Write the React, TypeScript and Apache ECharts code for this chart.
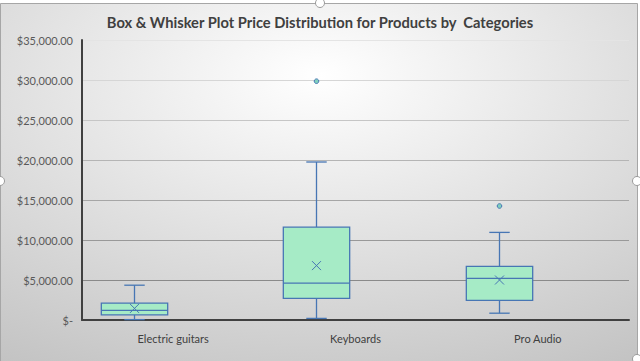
import React, { useEffect, useRef } from "react";
import * as echarts from "echarts";

const categories = ["Electric guitars", "Keyboards", "Pro Audio"];
const whiskerLow = [50, 200, 850];
const quartile1 = [650, 2700, 2450];
const medians = [1200, 4600, 5200];
const quartile3 = [2100, 11600, 6700];
const whiskerHigh = [4350, 19750, 10950];
const means = [1450, 6800, 5000];
const outlierCategory = [1, 2];
const outlierValue = [29850, 14250];

const OFFSET = 0.215;
const BOX = 0.364;
const CAP = 0.112;
const BLUE = "#4776b4";
const FILL = "#a6ebc6";
const FONT = "Lato";

export default function App() {
  const ref = useRef<HTMLDivElement>(null);
  useEffect(() => {
    document.body.style.margin = "0";
    const chart = echarts.init(ref.current!, null, { renderer: "svg" });
    const boxData = categories.map((_, i) => [
      i,
      whiskerLow[i],
      quartile1[i],
      medians[i],
      quartile3[i],
      whiskerHigh[i],
      means[i],
    ]);
    const outData = outlierCategory.map((c, i) => [c, outlierValue[i]]);
    const fmt = (v: number) =>
      v === 0
        ? "$-"
        : "$" + v.toLocaleString("en-US", { minimumFractionDigits: 2, maximumFractionDigits: 2 });

    chart.setOption({
      animation: false,
      graphic: [
        {
          type: "rect",
          z: -10,
          silent: true,
          shape: { x: 0.5, y: 3.5, width: 637, height: 360 },
          style: {
            fill: {
              type: "radial",
              x: 0.5,
              y: 0.2,
              r: 0.95,
              colorStops: [
                { offset: 0, color: "#ffffff" },
                { offset: 1, color: "#c2c2c2" },
              ],
            },
            stroke: "#a6a6a6",
            lineWidth: 1,
          },
        },
        ...[
          [0, 181],
          [637, 181],
          [637, 359],
          [320, 3],
        ].map(([x, y]) => ({
          type: "circle",
          z: 100,
          silent: true,
          shape: { cx: x, cy: y, r: 4.5 },
          style: { fill: "#ffffff", stroke: "#9a9a9a", lineWidth: 1 },
        })),
      ],
      title: {
        text: "Box & Whisker Plot Price Distribution for Products by  Categories",
        left: "center",
        top: 9,
        textStyle: { fontFamily: FONT, fontSize: 14.7, fontWeight: "bold", color: "#404040" },
      },
      grid: { left: 82, right: 11, top: 40, bottom: 41 },
      xAxis: {
        type: "category",
        data: categories,
        axisLine: { lineStyle: { color: "#404040", width: 2 } },
        axisTick: { show: false },
        axisLabel: { color: "#404040", fontSize: 11, fontFamily: FONT, margin: 13 },
        splitLine: { show: false },
      },
      yAxis: {
        type: "value",
        min: 0,
        max: 35000,
        interval: 5000,
        axisLine: { show: true, lineStyle: { color: "#404040", width: 2 } },
        axisTick: { show: false },
        axisLabel: {
          color: "#595959",
          fontSize: 11,
          fontFamily: FONT,
          margin: 9,
          formatter: (v: number) => fmt(v),
        },
        splitLine: {
          show: true,
          lineStyle: {
            color: ["#888888", "#8a8a8a", "#999999", "#a6a6a6", "#b5b5b5", "#c6c6c6", "#d6d6d6", "#e4e4e4"],
            width: 1,
          },
        },
      },
      series: [
        {
          type: "custom",
          name: "box",
          data: boxData,
          encode: { x: 0, y: [1, 2, 3, 4, 5, 6] },
          renderItem: (params: any, api: any) => {
            const idx = api.value(0);
            const band = api.size([1, 0])[0];
            const cx = Math.round(api.coord([idx, 0])[0] - band * OFFSET) + 0.5;
            const y = (v: number) => api.coord([idx, v])[1];
            const hw = (band * BOX) / 2;
            const cw = (band * CAP) / 2;
            const lo = y(api.value(1));
            const q1 = y(api.value(2));
            const md = y(api.value(3));
            const q3 = y(api.value(4));
            const hi = y(api.value(5));
            const mn = y(api.value(6));
            const ls = { stroke: BLUE, lineWidth: 1.3, fill: "none" };
            const m = 4.5;
            return {
              type: "group",
              children: [
                { type: "line", shape: { x1: cx, y1: q3, x2: cx, y2: hi }, style: ls },
                { type: "line", shape: { x1: cx, y1: q1, x2: cx, y2: lo }, style: ls },
                { type: "line", shape: { x1: cx - cw, y1: hi, x2: cx + cw, y2: hi }, style: ls },
                { type: "line", shape: { x1: cx - cw, y1: lo, x2: cx + cw, y2: lo }, style: ls },
                {
                  type: "rect",
                  shape: { x: cx - hw, y: q3, width: hw * 2, height: q1 - q3 },
                  style: { fill: FILL, stroke: BLUE, lineWidth: 1.3 },
                },
                { type: "line", shape: { x1: cx - hw, y1: md, x2: cx + hw, y2: md }, style: ls },
                { type: "line", shape: { x1: cx - m, y1: mn - m, x2: cx + m, y2: mn + m }, style: { stroke: BLUE, lineWidth: 1 } },
                { type: "line", shape: { x1: cx - m, y1: mn + m, x2: cx + m, y2: mn - m }, style: { stroke: BLUE, lineWidth: 1 } },
              ],
            };
          },
        },
        {
          type: "custom",
          name: "outliers",
          data: outData,
          encode: { x: 0, y: 1 },
          renderItem: (params: any, api: any) => {
            const idx = api.value(0);
            const band = api.size([1, 0])[0];
            const pt = api.coord([idx, api.value(1)]);
            return {
              type: "circle",
              shape: { cx: Math.round(pt[0] - band * OFFSET) + 0.5, cy: pt[1], r: 2.3 },
              style: { fill: "#7fcfbe", stroke: BLUE, lineWidth: 1 },
            };
          },
        },
      ],
    });
    return () => chart.dispose();
  }, []);
  return <div ref={ref} style={{ width: 640, height: 361 }} />;
}
